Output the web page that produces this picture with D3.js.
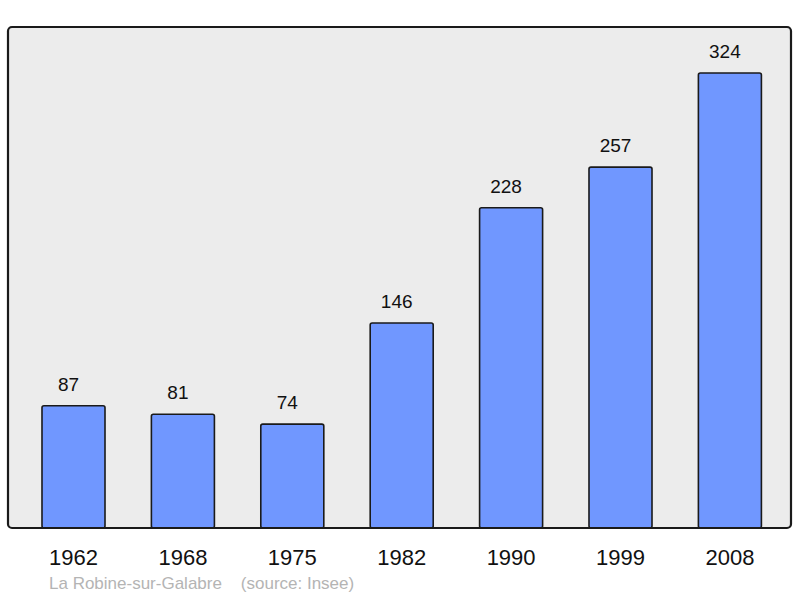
<!DOCTYPE html>
<html>
<head>
<meta charset="utf-8">
<script src="https://cdn.jsdelivr.net/npm/d3@7"></script>
<style>
  body { margin: 0; background: #fff; }
  svg { display: block; font-family: "Liberation Sans", Arial, sans-serif; }
</style>
</head>
<body>
<svg id="chart" width="800" height="598"></svg>
<script>
// Population by census year
const years = ["1962", "1968", "1975", "1982", "1990", "1999", "2008"];
const population = [87, 81, 74, 146, 228, 257, 324];
const place = "La Robine-sur-Galabre";
const source = "(source: Insee)";

const svg = d3.select("#chart");
const frame = { left: 8, top: 27, right: 791, bottom: 528 };

const x = d3.scaleBand()
    .domain(years)
    .range([18.8, 784.6])
    .paddingInner(0.424)
    .paddingOuter(0.212);

const y = d3.scaleLinear()
    .domain([0, 324])
    .range([frame.bottom, 73]);

// plot background
svg.append("rect")
    .attr("x", frame.left).attr("y", frame.top)
    .attr("width", frame.right - frame.left)
    .attr("height", frame.bottom - frame.top)
    .attr("rx", 4)
    .attr("fill", "#ececec");

const data = years.map((yr, i) => ({ year: yr, value: population[i] }));

svg.append("g").selectAll("rect")
    .data(data)
    .join("rect")
    .attr("x", d => x(d.year))
    .attr("y", d => y(d.value))
    .attr("width", x.bandwidth())
    .attr("height", d => y(0) - y(d.value))
    .attr("rx", 2)
    .attr("fill", "#7097ff")
    .attr("stroke", "#1a1a1a")
    .attr("stroke-width", 1.6);

// value labels sit a little left of the bar centre, as in the original
svg.append("g").selectAll("text")
    .data(data)
    .join("text")
    .attr("x", d => x(d.year) + x.bandwidth() / 2 - 5)
    .attr("y", d => y(d.value) - 15)
    .attr("text-anchor", "middle")
    .attr("font-size", 19)
    .attr("fill", "#111")
    .text(d => d.value);

// frame on top so it covers bar bottoms
svg.append("rect")
    .attr("x", frame.left).attr("y", frame.top)
    .attr("width", frame.right - frame.left)
    .attr("height", frame.bottom - frame.top)
    .attr("rx", 4)
    .attr("fill", "none")
    .attr("stroke", "#1a1a1a")
    .attr("stroke-width", 2.2);

// year axis labels
const xAxis = svg.append("g")
    .attr("transform", `translate(0,${frame.bottom})`)
    .call(d3.axisBottom(x).tickSize(0).tickPadding(0));
xAxis.select(".domain").remove();
xAxis.selectAll("text")
    .attr("dy", null)
    .attr("y", 37)
    .attr("font-size", 22)
    .attr("font-family", "Liberation Sans, Arial, sans-serif")
    .attr("fill", "#111");

svg.append("text")
    .attr("x", 49).attr("y", 589)
    .attr("font-size", 17)
    .attr("fill", "#b4b4b4")
    .attr("xml:space", "preserve")
    .text(place + "    " + source);
</script>
</body>
</html>
